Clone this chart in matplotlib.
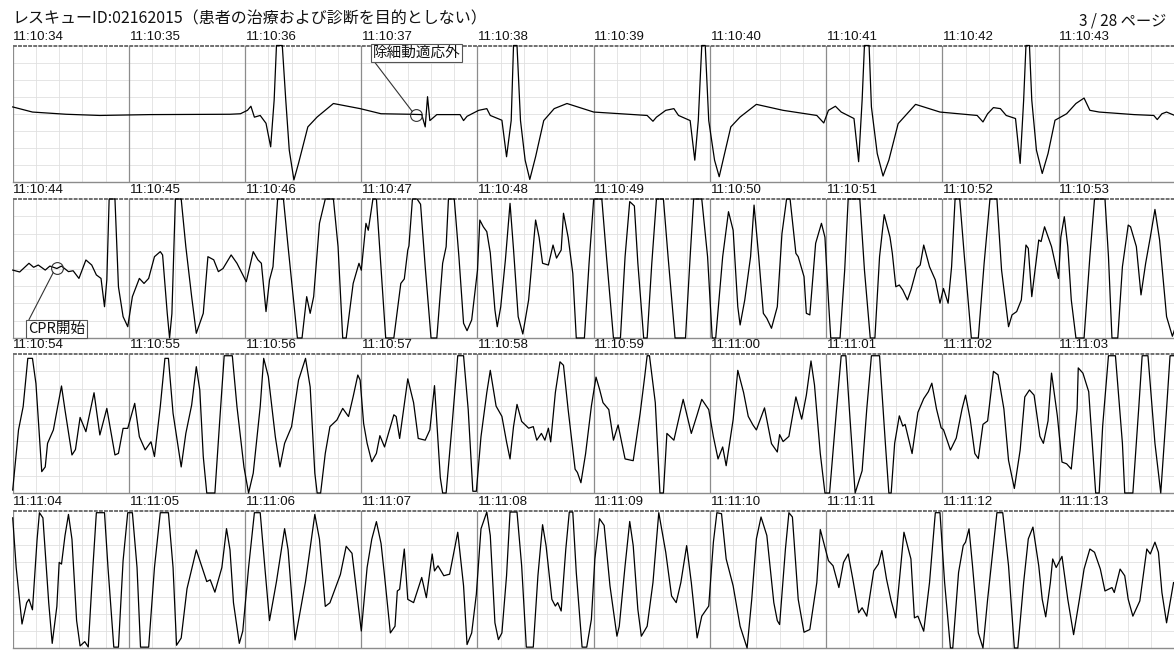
import numpy as np
import matplotlib
matplotlib.use("Agg")
import matplotlib.pyplot as plt

plt.rcParams['font.family'] = ['Noto Sans CJK JP', 'DejaVu Sans']

title = "レスキューID:02162015（患者の治療および診断を目的としない）"
page = "3 / 28 ページ"

labels = [
    ["11:10:34", "11:10:35", "11:10:36", "11:10:37", "11:10:38", "11:10:39", "11:10:40", "11:10:41", "11:10:42", "11:10:43"],
    ["11:10:44", "11:10:45", "11:10:46", "11:10:47", "11:10:48", "11:10:49", "11:10:50", "11:10:51", "11:10:52", "11:10:53"],
    ["11:10:54", "11:10:55", "11:10:56", "11:10:57", "11:10:58", "11:10:59", "11:11:00", "11:11:01", "11:11:02", "11:11:03"],
    ["11:11:04", "11:11:05", "11:11:06", "11:11:07", "11:11:08", "11:11:09", "11:11:10", "11:11:11", "11:11:12", "11:11:13"],
]

# strip 1 (time in s within strip, amplitude in grid divisions 0..8)
s1_t = [0.00, 0.17, 0.46, 0.75, 1.18, 1.87, 1.96, 2.02, 2.05, 2.08, 2.13, 2.18, 2.22, 2.25, 2.27, 2.32, 2.35, 2.38, 2.42, 2.46,
        2.54, 2.62, 2.76, 2.99, 3.17, 3.42, 3.52, 3.55, 3.57, 3.59, 3.65, 3.85, 3.88, 3.91, 4.01, 4.08, 4.11, 4.21, 4.25, 4.29,
        4.31, 4.34, 4.37, 4.41, 4.45, 4.50, 4.57, 4.66, 4.77, 5.00, 5.46, 5.51, 5.54, 5.62, 5.69, 5.73, 5.83, 5.87, 5.90, 5.93,
        5.96, 5.99, 6.04, 6.08, 6.12, 6.18, 6.26, 6.40, 6.63, 6.92, 6.98, 7.02, 7.08, 7.13, 7.24, 7.28, 7.31, 7.33, 7.37, 7.39,
        7.44, 7.49, 7.54, 7.62, 7.77, 7.98, 8.30, 8.35, 8.39, 8.44, 8.50, 8.55, 8.63, 8.67, 8.70, 8.72, 8.75, 8.77, 8.81, 8.86,
        8.91, 8.97, 9.07, 9.15, 9.22, 9.27, 9.35, 9.65, 9.82, 9.85, 9.89, 9.93, 10.00]
s1_v = [4.40, 4.10, 3.97, 3.90, 3.95, 3.97, 4.00, 4.20, 4.44, 3.80, 3.90, 3.44, 2.06, 4.80, 8.00, 8.00, 4.80, 1.87, 0.12, 1.10,
        3.23, 3.81, 4.60, 4.30, 4.00, 3.97, 3.95, 3.23, 5.00, 3.60, 3.95, 3.95, 3.60, 3.85, 4.20, 4.30, 3.90, 3.62, 1.48, 3.60,
        8.00, 8.00, 3.60, 1.28, 0.15, 1.48, 3.60, 4.30, 4.60, 4.10, 3.90, 3.56, 3.80, 4.20, 4.30, 3.90, 3.60, 1.28, 3.60, 8.00,
        8.00, 3.60, 1.28, 0.31, 1.48, 3.23, 3.81, 4.55, 4.20, 3.90, 3.46, 4.20, 4.44, 4.10, 3.72, 1.19, 4.79, 8.00, 8.00, 4.40,
        1.67, 0.35, 1.28, 3.42, 4.55, 4.10, 3.90, 3.52, 4.00, 4.36, 4.30, 3.90, 3.72, 1.09, 4.79, 8.00, 8.00, 4.80, 1.87, 0.50,
        1.67, 3.62, 4.00, 4.60, 4.92, 4.20, 4.10, 3.95, 3.90, 3.66, 4.00, 4.10, 3.90]

s2_t = [0.00, 0.06, 0.14, 0.18, 0.22, 0.28, 0.32, 0.38, 0.42, 0.48, 0.52, 0.57, 0.63, 0.68, 0.72, 0.76, 0.79, 0.81, 0.83, 0.88,
        0.91, 0.95, 0.99, 1.03, 1.09, 1.13, 1.17, 1.22, 1.27, 1.29, 1.33, 1.35, 1.37, 1.40, 1.45, 1.49, 1.54, 1.58, 1.64, 1.68,
        1.73, 1.77, 1.81, 1.88, 1.93, 2.01, 2.07, 2.11, 2.14, 2.18, 2.21, 2.24, 2.28, 2.33, 2.37, 2.45, 2.49, 2.53, 2.56, 2.59,
        2.64, 2.69, 2.76, 2.80, 2.84, 2.87, 2.93, 2.98, 3.00, 3.04, 3.06, 3.10, 3.13, 3.21, 3.28, 3.34, 3.37, 3.40, 3.41, 3.44,
        3.48, 3.51, 3.55, 3.60, 3.65, 3.70, 3.73, 3.75, 3.80, 3.84, 3.88, 3.91, 3.95, 4.00, 4.02, 4.05, 4.08, 4.11, 4.15, 4.17,
        4.20, 4.24, 4.28, 4.31, 4.35, 4.39, 4.44, 4.50, 4.53, 4.56, 4.61, 4.65, 4.68, 4.72, 4.74, 4.78, 4.82, 4.85, 4.92, 4.96,
        5.00, 5.07, 5.11, 5.17, 5.23, 5.27, 5.31, 5.35, 5.38, 5.43, 5.46, 5.50, 5.54, 5.60, 5.64, 5.70, 5.79, 5.83, 5.86, 5.93,
        5.98, 6.02, 6.05, 6.11, 6.16, 6.20, 6.24, 6.26, 6.30, 6.35, 6.38, 6.42, 6.46, 6.49, 6.53, 6.58, 6.62, 6.66, 6.69, 6.74,
        6.76, 6.81, 6.83, 6.86, 6.91, 6.96, 6.99, 7.02, 7.04, 7.12, 7.16, 7.19, 7.29, 7.33, 7.38, 7.42, 7.46, 7.50, 7.55, 7.57,
        7.60, 7.63, 7.66, 7.70, 7.73, 7.78, 7.81, 7.84, 7.89, 7.94, 7.98, 8.01, 8.05, 8.08, 8.11, 8.15, 8.19, 8.25, 8.31, 8.36,
        8.41, 8.47, 8.51, 8.57, 8.60, 8.64, 8.68, 8.72, 8.74, 8.77, 8.83, 8.85, 8.88, 8.94, 9.00, 9.02, 9.05, 9.08, 9.11, 9.15,
        9.22, 9.27, 9.31, 9.40, 9.43, 9.46, 9.51, 9.55, 9.60, 9.62, 9.67, 9.71, 9.75, 9.79, 9.83, 9.87, 9.93, 9.98, 10.00]
s2_v = [3.91, 3.80, 4.30, 4.07, 4.20, 3.91, 4.14, 4.00, 4.14, 3.82, 3.87, 3.43, 4.49, 4.20, 3.63, 3.43, 1.80, 3.34, 8.00, 8.00,
        2.95, 1.23, 0.65, 2.38, 3.43, 3.14, 3.43, 4.68, 4.97, 4.78, 1.42, 0.00, 1.40, 8.00, 8.00, 5.25, 2.38, 0.27, 1.42, 4.68,
        4.50, 3.82, 4.00, 4.78, 4.30, 3.24, 4.97, 4.50, 4.30, 1.52, 3.34, 4.10, 8.00, 8.00, 5.25, 0.00, 0.00, 2.38, 1.42, 2.38,
        6.60, 8.00, 8.00, 5.25, 0.00, 0.00, 3.14, 4.30, 3.90, 6.60, 6.20, 8.00, 8.00, 0.00, 0.00, 3.14, 3.40, 5.06, 5.30, 8.00,
        8.00, 7.70, 4.10, 0.00, 0.00, 4.30, 5.25, 8.00, 8.00, 4.68, 0.85, 0.42, 1.04, 3.91, 6.79, 6.40, 6.12, 4.90, 1.61, 0.65,
        1.80, 4.49, 7.75, 5.10, 1.23, 0.23, 2.19, 6.79, 5.80, 4.30, 4.20, 5.35, 4.60, 5.06, 7.18, 5.80, 3.72, 0.00, 0.00, 4.30,
        8.00, 8.00, 4.68, 0.00, 0.00, 4.68, 7.85, 7.60, 4.30, 0.00, 0.00, 4.30, 8.00, 8.00, 4.68, 0.00, 0.00, 4.68, 8.00, 8.00,
        4.68, 0.00, 0.00, 4.68, 7.27, 6.20, 1.80, 0.75, 2.19, 4.68, 7.65, 4.68, 1.42, 1.13, 0.56, 1.80, 6.00, 8.00, 8.00, 4.87,
        4.68, 3.53, 1.42, 1.33, 5.45, 6.60, 5.80, 2.19, 0.00, 0.00, 3.91, 8.00, 8.00, 3.91, 0.00, 0.00, 4.68, 7.10, 5.80, 4.87,
        2.95, 3.05, 2.76, 2.19, 2.76, 4.00, 4.20, 5.35, 4.10, 3.34, 2.00, 2.85, 2.00, 4.10, 8.00, 8.00, 4.68, 0.00, 0.00, 4.30,
        8.00, 8.00, 3.91, 0.65, 1.33, 1.52, 2.19, 5.35, 5.16, 2.38, 5.64, 5.55, 6.40, 5.26, 3.43, 5.80, 6.98, 5.26, 2.19, 0.00,
        0.00, 4.68, 8.00, 8.00, 4.68, 0.00, 0.00, 4.10, 6.50, 6.40, 5.26, 2.48, 4.30, 5.80, 7.40, 5.64, 1.23, 0.10, 0.50]

s3_t = [0.00, 0.05, 0.09, 0.13, 0.17, 0.20, 0.25, 0.28, 0.30, 0.35, 0.42, 0.45, 0.51, 0.54, 0.58, 0.63, 0.70, 0.75, 0.81, 0.88,
        0.91, 0.95, 0.99, 1.05, 1.09, 1.14, 1.19, 1.22, 1.27, 1.31, 1.34, 1.38, 1.45, 1.49, 1.54, 1.58, 1.61, 1.64, 1.67, 1.74,
        1.78, 1.82, 1.89, 1.93, 1.99, 2.03, 2.07, 2.13, 2.16, 2.20, 2.26, 2.30, 2.34, 2.40, 2.46, 2.52, 2.56, 2.60, 2.62, 2.65,
        2.69, 2.73, 2.79, 2.84, 2.89, 2.93, 2.97, 2.99, 3.02, 3.05, 3.09, 3.13, 3.16, 3.20, 3.28, 3.30, 3.33, 3.40, 3.45, 3.49,
        3.55, 3.59, 3.63, 3.68, 3.70, 3.73, 3.78, 3.83, 3.88, 3.92, 3.96, 3.99, 4.03, 4.08, 4.11, 4.16, 4.21, 4.25, 4.28, 4.31,
        4.34, 4.38, 4.44, 4.48, 4.51, 4.55, 4.58, 4.61, 4.63, 4.67, 4.71, 4.74, 4.78, 4.84, 4.86, 4.89, 4.93, 4.98, 5.02, 5.05,
        5.08, 5.13, 5.17, 5.21, 5.27, 5.34, 5.40, 5.44, 5.46, 5.48, 5.53, 5.57, 5.60, 5.63, 5.69, 5.73, 5.77, 5.84, 5.89, 5.93,
        5.99, 6.03, 6.07, 6.11, 6.14, 6.20, 6.24, 6.29, 6.33, 6.37, 6.40, 6.47, 6.53, 6.58, 6.60, 6.63, 6.68, 6.74, 6.79, 6.83,
        6.87, 6.90, 6.95, 6.99, 7.03, 7.09, 7.13, 7.17, 7.20, 7.25, 7.31, 7.35, 7.39, 7.46, 7.51, 7.54, 7.56, 7.59, 7.63, 7.66,
        7.68, 7.74, 7.79, 7.84, 7.88, 7.91, 7.95, 7.99, 8.01, 8.07, 8.12, 8.17, 8.20, 8.24, 8.28, 8.31, 8.35, 8.39, 8.44, 8.48,
        8.53, 8.57, 8.62, 8.67, 8.71, 8.75, 8.79, 8.84, 8.87, 8.91, 8.94, 8.99, 9.03, 9.07, 9.11, 9.16, 9.17, 9.21, 9.26, 9.32,
        9.35, 9.38, 9.43, 9.49, 9.55, 9.57, 9.64, 9.69, 9.72, 9.77, 9.83, 9.88, 9.93, 9.96, 10.00]
s3_v = [0.17, 3.63, 4.97, 7.75, 7.75, 6.30, 1.23, 1.50, 2.86, 3.63, 6.16, 4.78, 2.19, 2.50, 4.35, 3.53, 5.77, 3.34, 4.87, 2.19,
        2.28, 3.72, 3.72, 5.16, 3.24, 2.48, 2.95, 2.10, 4.97, 7.75, 7.75, 4.59, 1.50, 3.43, 5.06, 7.27, 5.93, 2.10, 0.00, 0.00,
        4.00, 7.90, 7.90, 4.97, 1.50, 0.00, 1.14, 4.97, 7.75, 6.70, 3.24, 1.50, 2.86, 3.82, 6.50, 7.75, 6.10, 1.14, 0.00, 0.00,
        2.28, 3.82, 4.20, 4.87, 4.40, 5.55, 6.79, 6.50, 4.00, 2.86, 1.80, 2.28, 3.30, 2.65, 4.50, 4.40, 3.14, 6.57, 5.20, 3.14,
        3.04, 3.63, 6.18, 0.88, 0.00, 0.00, 3.82, 7.90, 7.90, 4.80, 0.10, 0.10, 3.24, 5.78, 7.06, 5.00, 4.41, 2.94, 1.96, 3.82,
        5.10, 4.12, 3.73, 3.82, 3.04, 3.43, 3.04, 3.73, 2.94, 5.78, 7.55, 7.35, 4.80, 1.37, 1.18, 0.59, 2.25, 5.00, 6.67, 5.98,
        5.20, 4.80, 3.04, 3.92, 1.96, 1.86, 4.60, 6.76, 7.90, 7.90, 5.20, 0.00, 0.00, 3.43, 3.04, 4.22, 5.39, 3.43, 4.50, 5.39,
        4.80, 3.24, 1.96, 2.65, 1.57, 4.22, 7.06, 5.78, 4.41, 3.92, 3.63, 4.90, 2.84, 2.36, 3.36, 2.96, 3.26, 5.53, 4.25, 5.63,
        7.60, 6.22, 2.27, 0.00, 0.00, 4.84, 7.90, 7.90, 4.84, 0.00, 1.28, 4.84, 7.90, 7.90, 2.86, 0.00, 0.00, 2.86, 4.44, 3.85,
        3.95, 2.27, 4.64, 5.43, 5.83, 6.32, 4.84, 3.75, 3.65, 2.47, 3.16, 4.84, 5.63, 4.25, 2.27, 1.98, 3.95, 4.15, 7.00, 6.80,
        4.84, 1.88, 0.26, 2.47, 5.53, 5.93, 5.63, 3.26, 2.86, 4.15, 6.90, 4.44, 1.78, 1.68, 1.38, 4.84, 7.20, 6.90, 5.83, 0.00,
        0.00, 3.85, 7.90, 7.90, 2.86, 0.00, 0.00, 4.84, 7.90, 7.90, 2.86, 0.00, 4.84, 7.90, 7.90]

s4_t = [0.00, 0.03, 0.08, 0.12, 0.14, 0.17, 0.21, 0.23, 0.26, 0.31, 0.34, 0.38, 0.40, 0.42, 0.45, 0.48, 0.51, 0.55, 0.58, 0.62,
        0.65, 0.69, 0.72, 0.79, 0.82, 0.87, 0.91, 0.95, 0.99, 1.03, 1.07, 1.10, 1.17, 1.22, 1.27, 1.34, 1.38, 1.41, 1.45, 1.50,
        1.58, 1.63, 1.67, 1.70, 1.74, 1.80, 1.84, 1.87, 1.90, 1.95, 1.98, 2.03, 2.08, 2.13, 2.17, 2.21, 2.27, 2.34, 2.37, 2.43,
        2.46, 2.52, 2.60, 2.64, 2.69, 2.73, 2.82, 2.87, 2.92, 3.00, 3.05, 3.09, 3.13, 3.17, 3.20, 3.25, 3.29, 3.31, 3.33, 3.37,
        3.40, 3.45, 3.52, 3.56, 3.61, 3.63, 3.66, 3.71, 3.76, 3.83, 3.88, 3.91, 3.95, 3.99, 4.03, 4.08, 4.11, 4.15, 4.18, 4.21,
        4.25, 4.28, 4.34, 4.38, 4.42, 4.48, 4.52, 4.56, 4.59, 4.64, 4.67, 4.69, 4.72, 4.76, 4.79, 4.82, 4.85, 4.90, 4.94, 4.98,
        5.01, 5.05, 5.09, 5.14, 5.20, 5.22, 5.27, 5.31, 5.34, 5.38, 5.41, 5.46, 5.51, 5.56, 5.62, 5.67, 5.71, 5.75, 5.80, 5.84,
        5.89, 5.93, 5.99, 6.03, 6.06, 6.10, 6.14, 6.20, 6.26, 6.32, 6.36, 6.40, 6.44, 6.49, 6.55, 6.58, 6.60, 6.65, 6.68, 6.71,
        6.76, 6.81, 6.86, 6.92, 6.95, 6.99, 7.02, 7.06, 7.11, 7.15, 7.19, 7.23, 7.28, 7.31, 7.35, 7.41, 7.45, 7.48, 7.52, 7.56,
        7.60, 7.67, 7.73, 7.76, 7.79, 7.84, 7.89, 7.94, 7.98, 8.02, 8.07, 8.09, 8.14, 8.18, 8.20, 8.23, 8.26, 8.31, 8.35, 8.39,
        8.47, 8.52, 8.57, 8.62, 8.65, 8.70, 8.74, 8.78, 8.83, 8.86, 8.89, 8.93, 8.95, 8.98, 9.03, 9.08, 9.13, 9.18, 9.22, 9.27,
        9.31, 9.36, 9.40, 9.43, 9.46, 9.48, 9.53, 9.57, 9.60, 9.64, 9.70, 9.76, 9.79, 9.83, 9.86, 9.89, 9.93, 9.99]
s4_v = [7.60, 4.70, 1.40, 2.64, 2.85, 2.23, 6.35, 7.90, 7.60, 2.64, 0.27, 2.43, 5.00, 4.90, 6.56, 7.80, 6.35, 1.60, 0.12, 0.37,
        0.06, 4.70, 7.90, 7.90, 4.70, 0.05, 0.05, 5.10, 7.90, 7.90, 4.70, 0.05, 0.05, 4.70, 7.90, 7.90, 4.70, 0.16, 0.58, 3.46,
        5.73, 4.70, 3.88, 3.98, 3.26, 4.70, 6.97, 5.73, 2.64, 0.27, 0.99, 4.70, 7.90, 7.90, 4.70, 1.60, 3.88, 6.97, 5.73, 0.47,
        1.60, 3.88, 7.80, 6.35, 2.43, 2.64, 4.29, 5.94, 5.53, 0.99, 4.70, 6.35, 7.38, 6.10, 4.22, 0.88, 1.27, 3.33, 3.43, 5.78,
        2.84, 2.65, 4.12, 2.94, 5.49, 4.50, 4.80, 4.22, 4.31, 6.76, 3.63, 0.20, 0.88, 3.14, 6.96, 7.94, 6.57, 1.47, 0.49, 0.88,
        4.22, 7.94, 7.94, 4.80, 0.05, 0.05, 4.22, 7.20, 5.98, 2.84, 2.45, 2.65, 2.16, 5.78, 7.94, 7.94, 4.41, 0.05, 0.05, 1.67,
        5.20, 7.55, 7.16, 3.63, 0.69, 1.27, 4.80, 7.39, 5.98, 2.25, 0.69, 1.27, 3.82, 7.90, 5.59, 3.04, 2.65, 3.82, 5.98, 3.82,
        0.59, 1.86, 2.45, 6.18, 7.90, 7.84, 5.20, 3.63, 1.27, 0.00, 2.84, 6.37, 7.65, 6.57, 2.65, 1.60, 1.37, 5.78, 7.90, 7.65,
        2.84, 0.92, 1.08, 3.82, 6.92, 5.88, 5.10, 4.80, 3.53, 5.00, 5.49, 4.02, 2.06, 2.35, 1.86, 4.51, 4.90, 5.69, 4.02, 2.75,
        1.76, 6.76, 5.20, 1.76, 1.86, 0.98, 3.82, 7.90, 7.90, 3.82, 0.00, 0.00, 4.41, 5.98, 6.18, 6.96, 4.80, 0.88, 0.00, 2.84,
        7.90, 7.90, 4.80, 0.00, 0.00, 3.82, 6.37, 7.06, 4.80, 2.84, 1.82, 3.82, 5.20, 4.70, 5.35, 2.84, 0.78, 2.84, 4.61, 5.78,
        5.59, 4.61, 3.33, 3.43, 3.53, 3.24, 4.61, 4.22, 2.84, 1.86, 2.75, 5.78, 5.49, 6.18, 5.59, 3.24, 1.47, 3.82]

strips_t = [s1_t, s2_t, s3_t, s4_t]
strips_v = [s1_v, s2_v, s3_v, s4_v]

W, H = 1174, 650
fig = plt.figure(figsize=(W / 100, H / 100), dpi=100)
fig.patch.set_facecolor('white')

x_left = 12.7
px_per_s = 116.2
boxes = [(45.5, 182.0), (199.0, 338.0), (354.0, 493.0), (511.0, 648.0)]

axes = []
for i, (yt, yb) in enumerate(boxes):
    ax = fig.add_axes([x_left / W, 1 - yb / H, 10 * px_per_s / W, (yb - yt) / H])
    ax.set_xlim(0, 10)
    ax.set_ylim(0, 8)
    ax.axis('off')
    # grid
    for xm in np.arange(0.2, 10.0, 0.2):
        if abs(xm - round(xm)) > 1e-6:
            ax.axvline(xm, color='#e0e0e0', lw=0.6, zorder=1)
    for ym in range(1, 8):
        ax.axhline(ym, color='#e0e0e0', lw=0.6, zorder=1)
    for xs in range(0, 10):
        ax.axvline(xs, color='#8c8c8c', lw=0.9, zorder=2)
    ax.axhline(8, color='#707070', lw=1.4, ls=(0, (2, 0.6)), zorder=2, clip_on=False)
    ax.axhline(0, color='#8c8c8c', lw=1.0, zorder=2, clip_on=False)
    ax.plot(strips_t[i], strips_v[i], color='black', lw=0.9, zorder=3, clip_on=False)
    for k, lab in enumerate(labels[i]):
        ax.annotate(lab, xy=(k, 8), xytext=(0.5, 2.0), textcoords='offset points',
                    ha='left', va='bottom', fontsize=9.5, family=['Liberation Sans', 'DejaVu Sans'],
                    color='#111111', annotation_clip=False)
    axes.append(ax)

fig.text(12 / W, 1 - 19 / H, title, ha='left', va='center', fontsize=11.5, color='#111111')
fig.text(1166 / W, 1 - 21 / H, page, ha='right', va='center', fontsize=11, color='#111111')

# annotations
ax1 = axes[0]
ax1.plot([3.47], [3.93], marker='o', ms=8.5, mfc='none', mec='#333333', mew=0.8, zorder=4)
ax1.annotate("除細動適応外", xy=(3.44, 4.12), xytext=(3.10, 7.16),
             ha='left', va='bottom', fontsize=10.5, color='#111111',
             bbox=dict(boxstyle='square,pad=0.12', fc='white', ec='#555555', lw=0.8),
             arrowprops=dict(arrowstyle='-', color='#333333', lw=0.8, relpos=(0.0, 0.0), shrinkA=0, shrinkB=0),
             zorder=5)

ax2 = axes[1]
ax2.plot([0.38], [4.03], marker='o', ms=8.5, mfc='none', mec='#333333', mew=0.8, zorder=4)
ax2.annotate("CPR開始", xy=(0.35, 3.78), xytext=(0.13, 0.12),
             ha='left', va='bottom', fontsize=10.5, color='#111111',
             bbox=dict(boxstyle='square,pad=0.12', fc='white', ec='#555555', lw=0.8),
             arrowprops=dict(arrowstyle='-', color='#333333', lw=0.8, relpos=(0.0, 1.0), shrinkA=0, shrinkB=0),
             zorder=5)

fig.savefig('out.png', dpi=100, facecolor='white')
